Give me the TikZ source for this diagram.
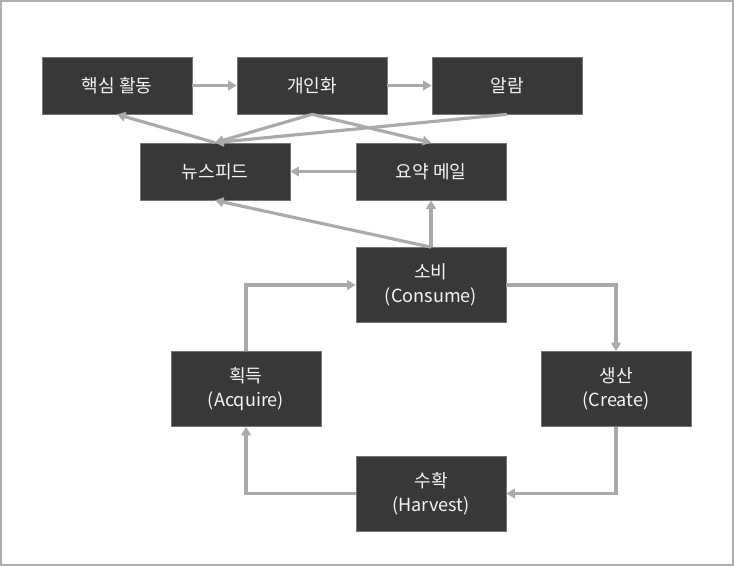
\documentclass[tikz,border=0pt]{standalone}
\usepackage{fontspec}
\setmainfont{Noto Sans CJK KR}
\usepackage{tikz}
\usetikzlibrary{arrows.meta, positioning, calc}
\usepackage{xcolor}
\definecolor{boxdark}{RGB}{58,56,54}
\definecolor{boxedge}{RGB}{120,118,116}
\definecolor{arrgray}{RGB}{170,170,170}
\definecolor{txtwhite}{RGB}{244,244,244}
\definecolor{framegray}{RGB}{175,175,175}
\tikzset{
  blk/.style={rectangle, draw=boxedge, line width=0.4pt, fill=boxdark,
    text=txtwhite, minimum width=3.0cm, minimum height=1.14cm,
    align=center, inner sep=0pt,
    font=\fontsize{10.3}{13.5}\selectfont},
  blkT/.style={blk, minimum height=1.5cm},
  arr/.style={-{Triangle[length=4.8pt,width=5.4pt]}, line width=1.8pt,
    draw=arrgray},
}

\begin{document}
\begin{tikzpicture}
  \useasboundingbox (0,0) rectangle (14.68,11.32);
  % Outer frame
  \draw[framegray, line width=1.1pt] (0.02,0.02) rectangle (14.66,11.30);

  % Top row
  \node[blk] (core)  at (2.34,9.61)  {핵심 활동};
  \node[blk] (pers)  at (6.24,9.61)  {개인화};
  \node[blk] (alarm) at (10.14,9.61) {알람};

  % Delivery row
  \node[blk] (feed) at (4.30,7.89) {뉴스피드};
  \node[blk] (mail) at (8.62,7.89) {요약 메일};

  % Cycle
  \node[blkT] (cons)   at (8.62,5.62)  {소비\\(Consume)};
  \node[blkT] (acq)    at (4.92,3.54)  {획득\\(Acquire)};
  \node[blkT] (create) at (12.32,3.54) {생산\\(Create)};
  \node[blkT] (harv)   at (8.62,1.45)  {수확\\(Harvest)};

  % Top row links
  \draw[arr] (core) -- (pers);
  \draw[arr] (pers) -- (alarm);
  \draw[arr] (feed.north) -- (core.south);
  \draw[arr] (pers.south) -- (feed.north);
  \draw[arr] (alarm.south) -- (feed.north);
  \draw[arr] (pers.south) -- (mail.north);
  \draw[arr] (mail) -- (feed);

  % From consume
  \draw[arr] (cons.north) -- (mail.south);
  \draw[arr] (cons.north) -- (feed.south);

  % Cycle links
  \draw[arr] (cons.east) -| (create.north);
  \draw[arr] (create.south) |- (harv.east);
  \draw[arr] (harv.west) -| (acq.south);
  \draw[arr] (acq.north) |- (cons.west);
\end{tikzpicture}
\end{document}
